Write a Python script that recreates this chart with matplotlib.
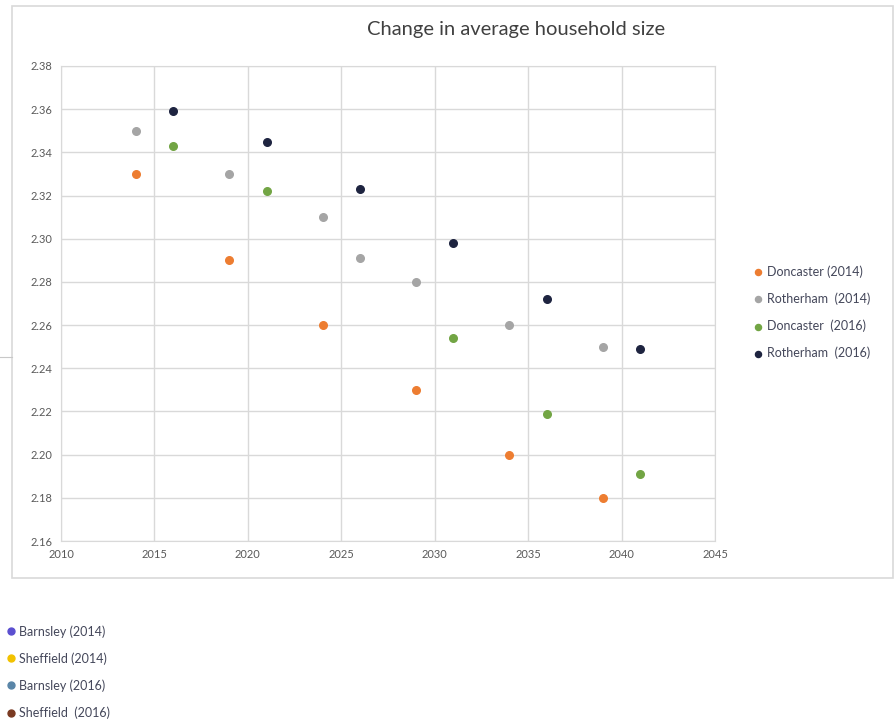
"""Change in average household size: projections for South Yorkshire districts."""

import matplotlib.pyplot as plt
from matplotlib.lines import Line2D
from matplotlib.patches import Rectangle

plt.rcParams["font.family"] = ["Lato", "DejaVu Sans"]

# projection years and average household size per series
years_2014 = [2014, 2019, 2024, 2029, 2034, 2039]
doncaster_2014 = [2.33, 2.29, 2.26, 2.23, 2.20, 2.18]

years_roth_2014 = [2014, 2019, 2024, 2026, 2029, 2034, 2039]
rotherham_2014 = [2.35, 2.33, 2.31, 2.291, 2.28, 2.26, 2.25]

years_don_2016 = [2016, 2021, 2031, 2036, 2041]
doncaster_2016 = [2.343, 2.322, 2.254, 2.219, 2.191]

years_2016 = [2016, 2021, 2026, 2031, 2036, 2041]
rotherham_2016 = [2.359, 2.345, 2.323, 2.298, 2.272, 2.249]

x_ticks = [2010, 2015, 2020, 2025, 2030, 2035, 2040, 2045]
y_ticks = [2.16, 2.18, 2.20, 2.22, 2.24, 2.26, 2.28, 2.30, 2.32, 2.34, 2.36, 2.38]

shown = [
    ("Doncaster (2014)", years_2014, doncaster_2014, "#ED7D31"),
    ("Rotherham  (2014)", years_roth_2014, rotherham_2014, "#A5A5A5"),
    ("Doncaster  (2016)", years_don_2016, doncaster_2016, "#72A544"),
    ("Rotherham  (2016)", years_2016, rotherham_2016, "#1E2440"),
]
# series in the workbook with no points in this range
empty = [
    ("Barnsley (2014)", "#5B4FD0"),
    ("Sheffield (2014)", "#F2C200"),
    ("Barnsley (2016)", "#5A86A8"),
    ("Sheffield  (2016)", "#7A3A22"),
]

fig = plt.figure(figsize=(8.95, 7.23), dpi=100)
W, H = 895, 723

# chart area frame
fig.patches.append(Rectangle((12 / W, 1 - 578 / H), (893 - 12) / W, (578 - 6) / H,
                             transform=fig.transFigure, fill=False,
                             edgecolor="#d9d9d9", linewidth=1.2))
fig.add_artist(Line2D([0, 12 / W], [1 - 357 / H] * 2, transform=fig.transFigure,
                      color="#c8c8c8", linewidth=0.8))

ax = fig.add_axes([61 / W, 1 - 541 / H, (715 - 61) / W, (541 - 66) / H])
for label, xs, ys, color in shown:
    ax.scatter(xs, ys, s=30, color=color, zorder=3, label=label)

ax.set_xlim(2010, 2045)
ax.set_ylim(2.16, 2.38)
ax.set_xticks(x_ticks)
ax.set_yticks(y_ticks)
ax.set_yticklabels([f"{v:.2f}" for v in y_ticks])
ax.tick_params(length=0, labelsize=8, labelcolor="#595959", pad=6)
ax.grid(color="#d9d9d9", linewidth=1.0)
ax.set_axisbelow(True)
for spine in ax.spines.values():
    spine.set_color("#d9d9d9")

fig.text(516 / W, 1 - 29 / H, "Change in average household size",
         ha="center", va="center", fontsize=14.5, color="#404040")

leg = ax.legend(loc="center left", bbox_to_anchor=(741 / W, 1 - 312 / H),
                bbox_transform=fig.transFigure, frameon=False, fontsize=9,
                handlelength=1.0, handletextpad=0.2, labelspacing=1.17,
                markerscale=0.8)
for t in leg.get_texts():
    t.set_color("#44475a")

handles = [Line2D([], [], marker="o", linestyle="none", color=c, markersize=5)
           for _, c in empty]
fig.legend(handles, [lab for lab, _ in empty], loc="center left",
           bbox_to_anchor=(-7 / W, 1 - 672 / H), frameon=False, fontsize=9,
           handlelength=1.0, handletextpad=0.2, labelspacing=1.17,
           labelcolor="#44475a")

fig.savefig("out.png", dpi=100)
